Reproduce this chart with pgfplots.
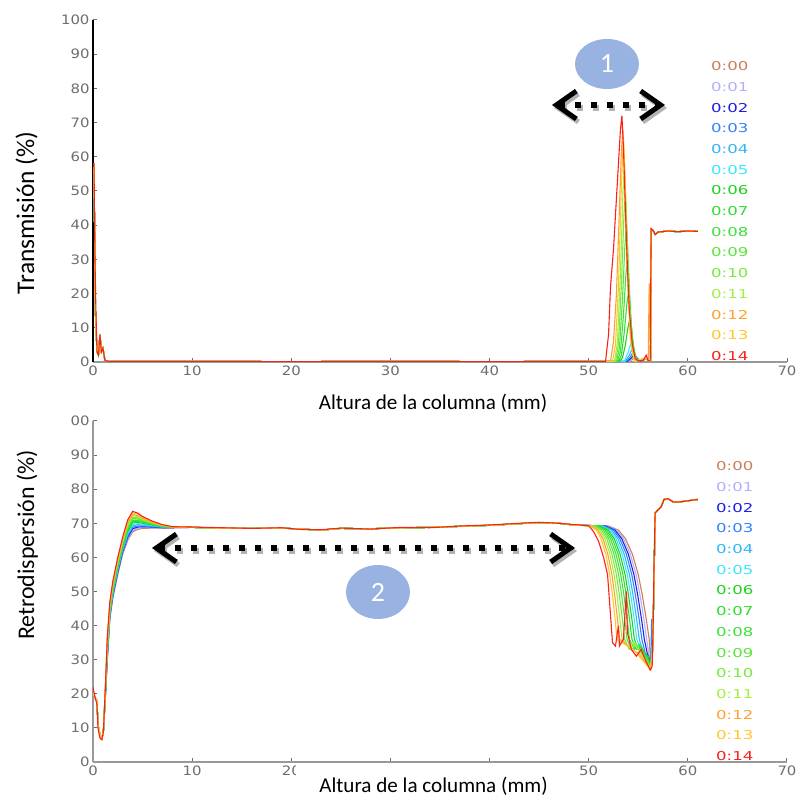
\documentclass[border=0pt]{standalone}
\usepackage{pgfplots}
\pgfplotsset{compat=1.18}
\usepackage{fontspec}
\setmainfont{Carlito}
\newfontfamily\tickfont[FakeStretch=1.15]{DejaVu Sans}
\newfontfamily\legfont[FakeStretch=1.35]{DejaVu Sans}
\usetikzlibrary{arrows.meta}
\definecolor{c0}{RGB}{205,125,90}
\definecolor{c1}{RGB}{176,176,255}
\definecolor{c2}{RGB}{30,30,230}
\definecolor{c3}{RGB}{50,130,255}
\definecolor{c4}{RGB}{50,180,255}
\definecolor{c5}{RGB}{60,230,255}
\definecolor{c6}{RGB}{30,210,30}
\definecolor{c7}{RGB}{50,220,50}
\definecolor{c8}{RGB}{60,225,60}
\definecolor{c9}{RGB}{90,230,60}
\definecolor{c10}{RGB}{120,235,60}
\definecolor{c11}{RGB}{160,240,70}
\definecolor{c12}{RGB}{255,160,50}
\definecolor{c13}{RGB}{255,200,40}
\definecolor{c14}{RGB}{255,30,30}
\definecolor{ellcol}{RGB}{152,178,226}
\definecolor{tickgray}{RGB}{110,110,110}
\pgfplotsset{
  myaxis/.style={
    scale only axis, width=694bp,
    xmin=0, xmax=70, ymin=0, ymax=100, enlargelimits=false,
    axis x line*=bottom, axis y line*=left,
    xtick={0,10,...,70}, ytick={0,10,...,100},
    tick align=inside, major tick length=4bp,
    tick style={draw=tickgray, line width=1bp},
    x axis line style={-, draw=gray!80, line width=1.3bp},
    /pgf/number format/assume math mode=true,
    ticklabel style={font=\tickfont\fontsize{13}{13}\selectfont, text=tickgray},
    legend image code/.code={},
    legend cell align=left,
    legend style={draw=none, fill=none, inner sep=0pt, anchor=north west,
      font=\legfont\fontsize{12.3}{12.3}\selectfont, row sep=11.7bp,
      nodes={inner sep=0pt, text height=9bp, text depth=0pt}},
    every axis plot/.append style={line width=1.1bp},
    legend entries={\textcolor{c0}{0:00},\textcolor{c1}{0:01},\textcolor{c2}{0:02},\textcolor{c3}{0:03},\textcolor{c4}{0:04},\textcolor{c5}{0:05},\textcolor{c6}{0:06},\textcolor{c7}{0:07},\textcolor{c8}{0:08},\textcolor{c9}{0:09},\textcolor{c10}{0:10},\textcolor{c11}{0:11},\textcolor{c12}{0:12},\textcolor{c13}{0:13},\textcolor{c14}{0:14}},
  }
}
\begin{document}
\begin{tikzpicture}
\useasboundingbox (0,0) rectangle (802bp,798bp);
% ================= TOP: Transmision =================
\begin{axis}[myaxis, height=342bp, at={(93bp,436bp)}, anchor=south west,
  y axis line style={-, draw=black, line width=2bp},
  xlabel={Altura de la columna (mm)},
  xlabel style={font=\fontsize{21.2}{21.2}\selectfont, at={(axis description cs:0.490,-0.140)}, anchor=base},
  ylabel={Transmisión (\%)},
  ylabel style={font=\fontsize{25.5}{25.5}\selectfont, at={(axis description cs:-0.085,0.436)}, anchor=base},
  legend style={at={(axis description cs:0.8905,0.8787)}},
]
\addplot[c0] coordinates {(0,55)(0.1,57)(0.25,14)(0.4,3)(0.55,2)(0.7,8)(0.85,3)(1.0,4)(1.2,0.5)(1.5,0.2)(10,0.2)(20,0.1)(30,0.2)(40,0.1)(51.5,0.2)
 (54.0,0.2)(54.5,0.8)(54.8,1.2)(55.1,0.6)(55.5,0.3)
 (55.8,1.2)(56.0,0.3)(56.25,0.4)(56.3,38.8)(56.5,38.4)(56.7,37.3)(57.0,38.0)(58.0,38.3)(59.0,38.1)(60.0,38.3)(61.0,38.2)};
\addplot[c1] coordinates {(0,55)(0.1,57)(0.25,14)(0.4,3)(0.55,2)(0.7,8)(0.85,3)(1.0,4)(1.2,0.5)(1.5,0.2)(10,0.2)(20,0.1)(30,0.2)(40,0.1)(51.5,0.2)
 (54.0,0.2)(54.4,1)(54.7,1.6)(55.0,0.8)(55.4,0.3)
 (55.8,1.2)(56.0,0.3)(56.25,0.4)(56.3,38.8)(56.5,38.4)(56.7,37.3)(57.0,38.0)(58.0,38.3)(59.0,38.1)(60.0,38.3)(61.0,38.2)};
\addplot[c2] coordinates {(0,55)(0.1,57)(0.25,14)(0.4,3)(0.55,2)(0.7,8)(0.85,3)(1.0,4)(1.2,0.5)(1.5,0.2)(10,0.2)(20,0.1)(30,0.2)(40,0.1)(51.5,0.2)
 (53.9,0.2)(54.3,1.2)(54.6,2.2)(54.9,1.0)(55.3,0.3)
 (55.8,1.2)(56.0,0.3)(56.25,0.4)(56.3,38.8)(56.5,38.4)(56.7,37.3)(57.0,38.0)(58.0,38.3)(59.0,38.1)(60.0,38.3)(61.0,38.2)};
\addplot[c3] coordinates {(0,55)(0.1,57)(0.25,14)(0.4,3)(0.55,2)(0.7,8)(0.85,3)(1.0,4)(1.2,0.5)(1.5,0.2)(10,0.2)(20,0.1)(30,0.2)(40,0.1)(51.5,0.2)
 (53.8,0.2)(54.2,1.5)(54.5,3)(54.8,1.2)(55.2,0.3)
 (55.8,1.2)(56.0,0.3)(56.25,0.4)(56.3,38.8)(56.5,38.4)(56.7,37.3)(57.0,38.0)(58.0,38.3)(59.0,38.1)(60.0,38.3)(61.0,38.2)};
\addplot[c4] coordinates {(0,55)(0.1,57)(0.25,14)(0.4,3)(0.55,2)(0.7,8)(0.85,3)(1.0,4)(1.2,0.5)(1.5,0.2)(10,0.2)(20,0.1)(30,0.2)(40,0.1)(51.5,0.2)
 (53.7,0.2)(54.1,2)(54.4,4)(54.7,1.5)(55.1,0.3)
 (55.8,1.2)(56.0,0.3)(56.25,0.4)(56.3,38.8)(56.5,38.4)(56.7,37.3)(57.0,38.0)(58.0,38.3)(59.0,38.1)(60.0,38.3)(61.0,38.2)};
\addplot[c5] coordinates {(0,55)(0.1,57)(0.25,14)(0.4,3)(0.55,2)(0.7,8)(0.85,3)(1.0,4)(1.2,0.5)(1.5,0.2)(10,0.2)(20,0.1)(30,0.2)(40,0.1)(51.5,0.2)
 (53.6,0.2)(54.0,3)(54.3,6)(54.6,2)(55.0,0.3)
 (55.8,1.2)(56.0,0.3)(56.25,0.4)(56.3,38.8)(56.5,38.4)(56.7,37.3)(57.0,38.0)(58.0,38.3)(59.0,38.1)(60.0,38.3)(61.0,38.2)};
\addplot[c6] coordinates {(0,55)(0.1,57)(0.25,14)(0.4,3)(0.55,2)(0.7,8)(0.85,3)(1.0,4)(1.2,0.5)(1.5,0.2)(10,0.2)(20,0.1)(30,0.2)(40,0.1)(51.5,0.2)
 (53.1,0.2)(53.4,1.2)(53.7,5)(53.95,10)(54.1,12)(54.25,9.6)(54.5,4)(54.8,1)(55.1,0.2)
 (55.8,1.2)(56.0,0.3)(56.25,0.4)(56.3,38.8)(56.5,38.4)(56.7,37.3)(57.0,38.0)(58.0,38.3)(59.0,38.1)(60.0,38.3)(61.0,38.2)};
\addplot[c7] coordinates {(0,55)(0.1,57)(0.25,14)(0.4,3)(0.55,2)(0.7,8)(0.85,3)(1.0,4)(1.2,0.5)(1.5,0.2)(10,0.2)(20,0.1)(30,0.2)(40,0.1)(51.5,0.2)
 (53.0,0.2)(53.3,2)(53.6,9)(53.85,17)(54.0,20)(54.15,16)(54.4,7)(54.7,1.6)(55.0,0.2)
 (55.8,1.2)(56.0,0.3)(56.25,0.4)(56.3,38.8)(56.5,38.4)(56.7,37.3)(57.0,38.0)(58.0,38.3)(59.0,38.1)(60.0,38.3)(61.0,38.2)};
\addplot[c8] coordinates {(0,55)(0.1,57)(0.25,14)(0.4,3)(0.55,2)(0.7,8)(0.85,3)(1.0,4)(1.2,0.5)(1.5,0.2)(10,0.2)(20,0.1)(30,0.2)(40,0.1)(51.5,0.2)
 (52.9,0.2)(53.2,3)(53.5,13.5)(53.75,25.5)(53.9,30)(54.05,24)(54.3,10.5)(54.6,2.4)(54.9,0.2)
 (55.8,1.2)(56.0,0.3)(56.25,0.4)(56.3,38.8)(56.5,38.4)(56.7,37.3)(57.0,38.0)(58.0,38.3)(59.0,38.1)(60.0,38.3)(61.0,38.2)};
\addplot[c9] coordinates {(0,55)(0.1,57)(0.25,14)(0.4,3)(0.55,2)(0.7,8)(0.85,3)(1.0,4)(1.2,0.5)(1.5,0.2)(10,0.2)(20,0.1)(30,0.2)(40,0.1)(51.5,0.2)
 (52.8,0.2)(53.1,4)(53.4,18)(53.65,34)(53.8,40)(53.95,32)(54.2,14)(54.5,3.2)(54.8,0.2)
 (55.8,1.2)(56.0,0.3)(56.25,0.4)(56.3,38.8)(56.5,38.4)(56.7,37.3)(57.0,38.0)(58.0,38.3)(59.0,38.1)(60.0,38.3)(61.0,38.2)};
\addplot[c10] coordinates {(0,55)(0.1,57)(0.25,14)(0.4,3)(0.55,2)(0.7,8)(0.85,3)(1.0,4)(1.2,0.5)(1.5,0.2)(10,0.2)(20,0.1)(30,0.2)(40,0.1)(51.5,0.2)
 (52.7,0.2)(53.0,5)(53.3,22.5)(53.55,42.5)(53.7,50)(53.85,40)(54.1,17.5)(54.4,4)(54.7,0.2)
 (55.8,1.2)(56.0,0.3)(56.25,0.4)(56.3,38.8)(56.5,38.4)(56.7,37.3)(57.0,38.0)(58.0,38.3)(59.0,38.1)(60.0,38.3)(61.0,38.2)};
\addplot[c11] coordinates {(0,55)(0.1,57)(0.25,14)(0.4,3)(0.55,2)(0.7,8)(0.85,3)(1.0,4)(1.2,0.5)(1.5,0.2)(10,0.2)(20,0.1)(30,0.2)(40,0.1)(51.5,0.2)
 (52.6,0.2)(52.9,5.8)(53.2,26)(53.45,49)(53.6,58)(53.75,46)(54.0,20)(54.3,4.6)(54.6,0.2)
 (55.8,1.2)(56.0,0.3)(56.25,0.4)(56.3,38.8)(56.5,38.4)(56.7,37.3)(57.0,38.0)(58.0,38.3)(59.0,38.1)(60.0,38.3)(61.0,38.2)};
\addplot[c12] coordinates {(0,55)(0.1,57)(0.25,14)(0.4,3)(0.55,2)(0.7,8)(0.85,3)(1.0,4)(1.2,0.5)(1.5,0.2)(10,0.2)(20,0.1)(30,0.2)(40,0.1)(51.5,0.2)
 (52.2,0.2)(52.5,6)(52.8,20)(53.1,45)(53.3,62)(53.45,68)(53.6,58)(53.85,30)(54.2,8)(54.6,1)(55.0,0.2)
 (55.8,1.2)(56.0,0.3)(56.1,23)(56.25,0.4)(56.3,38.8)(56.5,38.4)(56.7,37.3)(57.0,38.0)(58.0,38.3)(59.0,38.1)(60.0,38.3)(61.0,38.2)};
\addplot[c13] coordinates {(0,55)(0.1,57)(0.25,14)(0.4,3)(0.55,2)(0.7,8)(0.85,3)(1.0,4)(1.2,0.5)(1.5,0.2)(10,0.2)(20,0.1)(30,0.2)(40,0.1)(51.5,0.2)
 (52.4,0.2)(52.7,5)(53.0,22)(53.3,52)(53.5,66)(53.65,55)(53.9,28)(54.2,7)(54.6,0.2)
 (55.8,1.2)(56.0,0.3)(56.25,0.4)(56.3,38.8)(56.5,38.4)(56.7,37.3)(57.0,38.0)(58.0,38.3)(59.0,38.1)(60.0,38.3)(61.0,38.2)};
\addplot[c14] coordinates {(0,58)(0.1,58)(0.2,30)(0.3,14)(0.4,3)(0.55,2)(0.7,8)(0.85,3)(1.0,4)(1.2,0.5)(1.5,0.2)(10,0.2)(20,0.1)(30,0.2)(40,0.1)(51.5,0.2)
 (51.7,0.2)(52.0,8)(52.2,22)(52.5,33)(52.8,48)(53.0,58)(53.2,68)(53.35,72)(53.5,63)(53.7,45)(53.9,28)(54.1,15)(54.4,5)(54.7,1)(55.0,0.3)
 (55.5,0.5)(55.8,2)(56.0,0.3)(56.2,0.4)(56.3,39)(56.5,38.5)(56.7,37.3)(57.0,38)(58.0,38.3)(59.0,38.1)(60.0,38.3)(61.0,38.2)};
\end{axis}
% ================= BOTTOM: Retrodispersion =================
\begin{axis}[myaxis, height=341bp, at={(93bp,36bp)}, anchor=south west,
  y axis line style={-, draw=gray!80, line width=1.3bp},
  yticklabels={0,10,20,30,40,50,60,70,80,90,00},
  xticklabels={0,10,20,{},{},50,60,70},
  xlabel={\hspace*{23bp}Altura de la columna (mm)\hspace*{22bp}},
  xlabel style={font=\fontsize{21.2}{21.2}\selectfont, at={(axis description cs:0.4899,-0.088)}, anchor=base, fill=white, inner sep=0pt, text height=29bp, text depth=8bp},
  ylabel={Retrodispersión (\%)},
  ylabel style={font=\fontsize{24}{24}\selectfont, at={(axis description cs:-0.085,0.636)}, anchor=base},
  legend style={at={(axis description cs:0.8977,0.881)}},
]
\addplot[c0] coordinates {(0,20)(0.2,19)(0.4,18)(0.5,11)(0.7,8)(0.9,7)(1.05,9)(1.25,19)(1.45,30)(1.7,42)(2.0,48)(2.5,55)(3.0,61)(3.5,65)(4.0,67.5)(4.5,68.2)(5.0,68.5)(6.0,68.6)(7.0,68.6)(8.0,68.7)
 (10,68.8)(13,68.6)(16,68.5)(19,68.6)(21,68.3)(23,68.0)(25,68.5)(28,68.4)(31,68.7)(34,68.8)(37,69.1)(40,69.4)(43,69.9)(45,70.2)(47,70.0)(48.5,69.5)
 (52.0,69.2)(53.0,68.0)(53.7,65.5)(54.4,61)(55.0,55)(55.4,49)(55.8,42)(56.1,36)(56.25,29)(56.35,30)
 (56.45,33)(56.6,55)(56.7,73)(57.0,74)(57.3,74.8)(57.6,77)(58.0,77.2)(58.5,76.3)(59,76.2)(60,76.6)(61,77)};
\addplot[c1] coordinates {(0,20)(0.2,19)(0.4,18)(0.5,11)(0.7,8)(0.9,7)(1.05,9)(1.25,19.2)(1.45,30.5)(1.7,42.4)(2.0,48.4)(2.5,55.4)(3.0,61.4)(3.5,65.4)(4.0,67.9)(4.5,68.5)(5.0,68.8)(6.0,68.7)(7.0,68.7)(8.0,68.7)
 (10,68.8)(13,68.6)(16,68.5)(19,68.6)(21,68.3)(23,68.0)(25,68.5)(28,68.4)(31,68.7)(34,68.8)(37,69.1)(40,69.4)(43,69.9)(45,70.2)(47,70.0)(48.5,69.5)
 (51.85,69.2)(52.83,68.0)(53.51,65.5)(54.19,61)(54.78,55)(55.17,49)(55.56,42)(55.85,36)(56.05,32)(56.25,29)
 (56.45,33)(56.6,55)(56.7,73)(57.0,74)(57.3,74.8)(57.6,77)(58.0,77.2)(58.5,76.3)(59,76.2)(60,76.6)(61,77)};
\addplot[c2] coordinates {(0,20)(0.2,19)(0.4,18)(0.5,11)(0.7,8)(0.9,7)(1.05,9)(1.25,19.4)(1.45,31.0)(1.7,42.7)(2.0,48.7)(2.5,55.7)(3.0,61.7)(3.5,65.9)(4.0,68.4)(4.5,68.9)(5.0,69.0)(6.0,68.9)(7.0,68.7)(8.0,68.7)
 (10,68.8)(13,68.6)(16,68.5)(19,68.6)(21,68.3)(23,68.0)(25,68.5)(28,68.4)(31,68.7)(34,68.8)(37,69.1)(40,69.4)(43,69.9)(45,70.2)(47,70.0)(48.5,69.5)
 (51.71,69.2)(52.66,68.0)(53.33,65.5)(53.99,61)(54.56,55)(54.94,49)(55.32,42)(55.61,36)(55.9,32)(56.25,29)
 (56.45,33)(56.6,55)(56.7,73)(57.0,74)(57.3,74.8)(57.6,77)(58.0,77.2)(58.5,76.3)(59,76.2)(60,76.6)(61,77)};
\addplot[c3] coordinates {(0,20)(0.2,19)(0.4,18)(0.5,11)(0.7,8)(0.9,7)(1.05,9)(1.25,19.6)(1.45,31.5)(1.7,43.1)(2.0,49.1)(2.5,56.1)(3.0,62.1)(3.5,66.3)(4.0,68.8)(4.5,69.2)(5.0,69.2)(6.0,69.0)(7.0,68.8)(8.0,68.8)
 (10,68.8)(13,68.6)(16,68.5)(19,68.6)(21,68.3)(23,68.0)(25,68.5)(28,68.4)(31,68.7)(34,68.8)(37,69.1)(40,69.4)(43,69.9)(45,70.2)(47,70.0)(48.5,69.5)
 (51.57,69.2)(52.49,68.0)(53.14,65.5)(53.79,61)(54.34,55)(54.71,49)(55.08,42)(55.36,36)(55.7,32)(56.0,31)(56.25,28.5)(56.35,42)
 (56.45,33)(56.6,55)(56.7,73)(57.0,74)(57.3,74.8)(57.6,77)(58.0,77.2)(58.5,76.3)(59,76.2)(60,76.6)(61,77)};
\addplot[c4] coordinates {(0,20)(0.2,19)(0.4,18)(0.5,11)(0.7,8)(0.9,7)(1.05,9)(1.25,19.9)(1.45,32.0)(1.7,43.4)(2.0,49.4)(2.5,56.4)(3.0,62.4)(3.5,66.7)(4.0,69.2)(4.5,69.6)(5.0,69.5)(6.0,69.2)(7.0,68.9)(8.0,68.8)
 (10,68.8)(13,68.6)(16,68.5)(19,68.6)(21,68.3)(23,68.0)(25,68.5)(28,68.4)(31,68.7)(34,68.8)(37,69.1)(40,69.4)(43,69.9)(45,70.2)(47,70.0)(48.5,69.5)
 (51.41,69.2)(52.31,68.0)(52.94,65.5)(53.57,61)(54.11,55)(54.47,49)(54.83,42)(55.10,36)(55.5,32)(55.9,31)(56.25,28.5)
 (56.45,33)(56.6,55)(56.7,73)(57.0,74)(57.3,74.8)(57.6,77)(58.0,77.2)(58.5,76.3)(59,76.2)(60,76.6)(61,77)};
\addplot[c5] coordinates {(0,20)(0.2,19)(0.4,18)(0.5,11)(0.7,8)(0.9,7)(1.05,9)(1.25,20.1)(1.45,32.5)(1.7,43.8)(2.0,49.8)(2.5,56.8)(3.0,62.8)(3.5,67.1)(4.0,69.6)(4.5,69.9)(5.0,69.7)(6.0,69.3)(7.0,69.0)(8.0,68.8)
 (10,68.8)(13,68.6)(16,68.5)(19,68.6)(21,68.3)(23,68.0)(25,68.5)(28,68.4)(31,68.7)(34,68.8)(37,69.1)(40,69.4)(43,69.9)(45,70.2)(47,70.0)(48.5,69.5)
 (51.27,69.2)(52.14,68.0)(52.75,65.5)(53.37,61)(53.89,55)(54.24,49)(54.59,42)(54.85,36)(55.3,32.5)(55.8,31)(56.25,28)
 (56.45,33)(56.6,55)(56.7,73)(57.0,74)(57.3,74.8)(57.6,77)(58.0,77.2)(58.5,76.3)(59,76.2)(60,76.6)(61,77)};
\addplot[c6] coordinates {(0,20)(0.2,19)(0.4,18)(0.5,11)(0.7,8)(0.9,7)(1.05,9)(1.25,20.3)(1.45,33.0)(1.7,44.1)(2.0,50.1)(2.5,57.1)(3.0,63.1)(3.5,67.6)(4.0,70.1)(4.5,70.3)(5.0,70.0)(6.0,69.5)(7.0,69.0)(8.0,68.8)
 (10,68.8)(13,68.6)(16,68.5)(19,68.6)(21,68.3)(23,68.0)(25,68.5)(28,68.4)(31,68.7)(34,68.8)(37,69.1)(40,69.4)(43,69.9)(45,70.2)(47,70.0)(48.5,69.5)
 (51.12,69.2)(51.97,68.0)(52.57,65.5)(53.16,61)(53.67,55)(54.01,49)(54.35,42)(54.61,36)(55.0,33)(55.5,32)(56.0,31)(56.25,28)
 (56.45,33)(56.6,55)(56.7,73)(57.0,74)(57.3,74.8)(57.6,77)(58.0,77.2)(58.5,76.3)(59,76.2)(60,76.6)(61,77)};
\addplot[c7] coordinates {(0,20)(0.2,19)(0.4,18)(0.5,11)(0.7,8)(0.9,7)(1.05,9)(1.25,20.5)(1.45,33.5)(1.7,44.5)(2.0,50.5)(2.5,57.5)(3.0,63.5)(3.5,68.0)(4.0,70.5)(4.5,70.6)(5.0,70.3)(6.0,69.6)(7.0,69.1)(8.0,68.9)
 (10,68.8)(13,68.6)(16,68.5)(19,68.6)(21,68.3)(23,68.0)(25,68.5)(28,68.4)(31,68.7)(34,68.8)(37,69.1)(40,69.4)(43,69.9)(45,70.2)(47,70.0)(48.5,69.5)
 (50.98,69.2)(51.80,68.0)(52.38,65.5)(52.96,61)(53.45,55)(53.78,49)(54.11,42)(54.36,36)(54.8,33)(55.3,34)(55.8,31)(56.25,28)
 (56.45,33)(56.6,55)(56.7,73)(57.0,74)(57.3,74.8)(57.6,77)(58.0,77.2)(58.5,76.3)(59,76.2)(60,76.6)(61,77)};
\addplot[c8] coordinates {(0,20)(0.2,19)(0.4,18)(0.5,11)(0.7,8)(0.9,7)(1.05,9)(1.25,20.7)(1.45,34.0)(1.7,44.9)(2.0,50.9)(2.5,57.9)(3.0,63.9)(3.5,68.4)(4.0,70.9)(4.5,70.9)(5.0,70.5)(6.0,69.7)(7.0,69.2)(8.0,68.9)
 (10,68.8)(13,68.6)(16,68.5)(19,68.6)(21,68.3)(23,68.0)(25,68.5)(28,68.4)(31,68.7)(34,68.8)(37,69.1)(40,69.4)(43,69.9)(45,70.2)(47,70.0)(48.5,69.5)
 (50.83,69.2)(51.63,68.0)(52.19,65.5)(52.75,61)(53.23,55)(53.55,49)(53.87,42)(54.11,36)(54.6,33)(55.1,34.5)(55.6,31)(56.25,28)
 (56.45,33)(56.6,55)(56.7,73)(57.0,74)(57.3,74.8)(57.6,77)(58.0,77.2)(58.5,76.3)(59,76.2)(60,76.6)(61,77)};
\addplot[c9] coordinates {(0,20)(0.2,19)(0.4,18)(0.5,11)(0.7,8)(0.9,7)(1.05,9)(1.25,20.9)(1.45,34.5)(1.7,45.2)(2.0,51.2)(2.5,58.2)(3.0,64.2)(3.5,68.9)(4.0,71.4)(4.5,71.3)(5.0,70.8)(6.0,69.9)(7.0,69.2)(8.0,68.9)
 (10,68.8)(13,68.6)(16,68.5)(19,68.6)(21,68.3)(23,68.0)(25,68.5)(28,68.4)(31,68.7)(34,68.8)(37,69.1)(40,69.4)(43,69.9)(45,70.2)(47,70.0)(48.5,69.5)
 (50.69,69.2)(51.46,68.0)(52.00,65.5)(52.55,61)(53.01,55)(53.32,49)(53.63,42)(53.86,36)(54.3,33)(54.9,34)(55.5,32)(56.25,28)
 (56.45,33)(56.6,55)(56.7,73)(57.0,74)(57.3,74.8)(57.6,77)(58.0,77.2)(58.5,76.3)(59,76.2)(60,76.6)(61,77)};
\addplot[c10] coordinates {(0,20)(0.2,19)(0.4,18)(0.5,11)(0.7,8)(0.9,7)(1.05,9)(1.25,21.1)(1.45,35.0)(1.7,45.6)(2.0,51.6)(2.5,58.6)(3.0,64.6)(3.5,69.3)(4.0,71.8)(4.5,71.6)(5.0,71.0)(6.0,70.0)(7.0,69.3)(8.0,68.9)
 (10,68.8)(13,68.6)(16,68.5)(19,68.6)(21,68.3)(23,68.0)(25,68.5)(28,68.4)(31,68.7)(34,68.8)(37,69.1)(40,69.4)(43,69.9)(45,70.2)(47,70.0)(48.5,69.5)
 (50.54,69.2)(51.29,68.0)(51.82,65.5)(52.34,61)(52.79,55)(53.09,49)(53.39,42)(53.62,36)(54.1,33)(54.7,35)(55.3,32)(56.25,27.5)
 (56.45,33)(56.6,55)(56.7,73)(57.0,74)(57.3,74.8)(57.6,77)(58.0,77.2)(58.5,76.3)(59,76.2)(60,76.6)(61,77)};
\addplot[c11] coordinates {(0,20)(0.2,19)(0.4,18)(0.5,11)(0.7,8)(0.9,7)(1.05,9)(1.25,21.4)(1.45,35.5)(1.7,45.9)(2.0,51.9)(2.5,58.9)(3.0,64.9)(3.5,69.7)(4.0,72.2)(4.5,72.0)(5.0,71.3)(6.0,70.2)(7.0,69.4)(8.0,68.9)
 (10,68.8)(13,68.6)(16,68.5)(19,68.6)(21,68.3)(23,68.0)(25,68.5)(28,68.4)(31,68.7)(34,68.8)(37,69.1)(40,69.4)(43,69.9)(45,70.2)(47,70.0)(48.5,69.5)
 (50.39,69.2)(51.11,68.0)(51.62,65.5)(52.13,61)(52.56,55)(52.85,49)(53.14,42)(53.36,36)(53.9,34)(54.5,35)(55.2,32)(56.25,27.5)
 (56.45,33)(56.6,55)(56.7,73)(57.0,74)(57.3,74.8)(57.6,77)(58.0,77.2)(58.5,76.3)(59,76.2)(60,76.6)(61,77)};
\addplot[c12] coordinates {(0,20)(0.2,19)(0.4,18)(0.5,11)(0.7,8)(0.9,7)(1.05,9)(1.25,21.6)(1.45,36.0)(1.7,46.3)(2.0,52.3)(2.5,59.3)(3.0,65.3)(3.5,70.1)(4.0,72.6)(4.5,72.3)(5.0,71.5)(6.0,70.3)(7.0,69.5)(8.0,69.0)
 (10,68.8)(13,68.6)(16,68.5)(19,68.6)(21,68.3)(23,68.0)(25,68.5)(28,68.4)(31,68.7)(34,68.8)(37,69.1)(40,69.4)(43,69.9)(45,70.2)(47,70.0)(48.5,69.5)
 (50.24,69.2)(50.94,68.0)(51.43,65.5)(51.92,61)(52.34,55)(52.62,49)(52.90,42)(53.11,36)(53.6,35)(54.3,33)(55.0,32)(56.25,27)
 (56.45,33)(56.6,55)(56.7,73)(57.0,74)(57.3,74.8)(57.6,77)(58.0,77.2)(58.5,76.3)(59,76.2)(60,76.6)(61,77)};
\addplot[c13] coordinates {(0,20)(0.2,19)(0.4,18)(0.5,11)(0.7,8)(0.9,7)(1.05,9)(1.25,21.8)(1.45,36.5)(1.7,46.6)(2.0,52.6)(2.5,59.6)(3.0,65.6)(3.5,70.6)(4.0,73.1)(4.5,72.7)(5.0,71.8)(6.0,70.5)(7.0,69.5)(8.0,69.0)
 (10,68.8)(13,68.6)(16,68.5)(19,68.6)(21,68.3)(23,68.0)(25,68.5)(28,68.4)(31,68.7)(34,68.8)(37,69.1)(40,69.4)(43,69.9)(45,70.2)(47,70.0)(48.5,69.5)
 (50.10,69.2)(50.77,68.0)(51.24,65.5)(51.72,61)(52.12,55)(52.39,49)(52.66,42)(52.86,36)(53.3,35)(54.0,34)(54.8,32)(56.25,27)
 (56.45,33)(56.6,55)(56.7,73)(57.0,74)(57.3,74.8)(57.6,77)(58.0,77.2)(58.5,76.3)(59,76.2)(60,76.6)(61,77)};
\addplot[c14] coordinates {(0,22)(0.2,19)(0.4,17)(0.5,10)(0.7,7)(0.9,6.5)(1.05,9)(1.25,22)(1.45,37)(1.7,47)(2.0,53)(2.5,60)(3.0,66)(3.5,71)(4.0,73.5)(4.5,73)(5.0,72)(6.0,70.6)(7.0,69.6)(8.0,69.0)
 (10,68.9)(13,68.7)(16,68.5)(19,68.7)(21,68.2)(23,68.1)(25,68.6)(28,68.3)(31,68.8)(34,68.7)(37,69.2)(40,69.5)(43,70.0)(45,70.3)(47,70.0)
 (49,69.5)(50,69.3)(50.5,67.5)(51.0,64.7)(51.5,60)(51.9,55)(52.2,43)(52.4,35)(52.7,34)(53.0,40)(53.1,34)(53.5,36)(53.8,50)(53.9,38)(54.3,33)(54.8,31)(55.3,33)(55.7,30)(56.2,27)(56.4,28)
 (56.5,40)(56.6,60)(56.7,73)(57.0,74)(57.3,74.8)(57.6,77)(58.0,77.2)(58.5,76.3)(59,76.2)(60,76.6)(61,77)};
\end{axis}
% ================= annotations =================
\fill[ellcol] (607bp,734bp) ellipse [x radius=32bp, y radius=25bp];
\node[text=white, font=\fontsize{28}{28}\selectfont] at (607bp,734bp) {1};
\draw[black!30, line width=6bp, dash pattern=on 6bp off 10bp, {Straight Barb[length=20bp,width=28bp,line width=5bp]}-{Straight Barb[length=20bp,width=28bp,line width=5bp]}] (554bp,690bp) -- (667bp,690bp);
\draw[black, line width=6bp, dash pattern=on 6bp off 10bp, {Straight Barb[length=20bp,width=28bp,line width=5bp]}-{Straight Barb[length=20bp,width=28bp,line width=5bp]}] (552bp,693bp) -- (665bp,693bp);
\fill[ellcol] (378bp,206bp) ellipse [x radius=32bp, y radius=27bp];
\node[text=white, font=\fontsize{28}{28}\selectfont] at (378bp,206bp) {2};
\draw[black!30, line width=6bp, dash pattern=on 6bp off 10bp, {Straight Barb[length=20bp,width=28bp,line width=5bp]}-{Straight Barb[length=20bp,width=28bp,line width=5bp]}] (154bp,247bp) -- (577bp,247bp);
\draw[black, line width=6bp, dash pattern=on 6bp off 10bp, {Straight Barb[length=20bp,width=28bp,line width=5bp]}-{Straight Barb[length=20bp,width=28bp,line width=5bp]}] (152bp,250bp) -- (575bp,250bp);
\end{tikzpicture}
\end{document}
